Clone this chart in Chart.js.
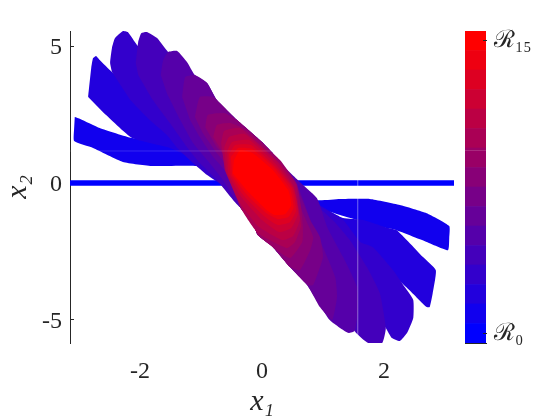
<!DOCTYPE html>
<html>
<head>
<meta charset="utf-8">
<script src="https://cdn.jsdelivr.net/npm/chart.js@4"></script>
<style>
body { margin: 0; background: #fff; }
canvas { position: absolute; top: 0; }
#setsChart { left: 0; }
#barChart { left: 465px; }
</style>
</head>
<body>
<canvas id="setsChart" width="560" height="420"></canvas>
<canvas id="barChart" width="95" height="420"></canvas>
<script>
// Tick labels and limits
const xTicks = [-2, 0, 2];
const yTicks = [-5, 0, 5];
const xLimits = [-3.148, 3.148];
const yLimits = [-5.84, 5.55];
const barTicks = [0.5, 9.85, 15.5];
const barTickLabels = { 0.5: 'ℛ₀', 15.5: 'ℛ₁₅' };

// Outlines of the reachable sets as [x1, x2]
const r0 = [[-3.148, 0], [3.148, 0]];
const r1 = [[-3.07, 2.41], [-2.98, 2.34], [-2.66, 2.01], [-2.13, 1.64], [-1.34, 1.39], [-0.52, 0.84], [0, 0.40], [0.62, -0.26], [0.90, -0.62], [1.28, -0.58], [1.77, -0.58], [2.26, -0.80], [2.70, -1.10], [3.07, -1.57], [3.07, -2.01], [3.05, -2.45], [2.70, -2.15], [2.15, -1.68], [1.98, -1.61], [1.28, -1.17], [0.46, -0.55], [0, -0.33], [-0.52, 0.29], [-1.07, 0.62], [-1.79, 0.62], [-2.28, 0.77], [-2.77, 1.28], [-3.08, 1.53], [-3.08, 2.01]];
const r2 = [[-2.85, 3.14], [-2.80, 4.20], [-2.77, 4.56], [-2.72, 4.64], [-2.66, 4.49], [-2.46, 4.05], [-1.84, 2.85], [-1.02, 1.75], [0, 0.47], [0.62, -0.26], [0.95, -0.80], [1.33, -1.28], [1.66, -1.35], [2.02, -1.61], [2.21, -1.72], [2.64, -2.70], [2.85, -3.18], [2.80, -4.01], [2.75, -4.53], [2.70, -4.53], [2.38, -3.83], [1.77, -2.63], [0.95, -1.53], [0, -0.47], [-0.93, 0.47], [-1.26, 1.02], [-1.51, 1.28], [-2.13, 1.64], [-2.61, 2.59]];
const r3 = [[-2.46, 4.05], [-2.49, 4.38], [-2.46, 4.93], [-2.41, 5.29], [-2.28, 5.55], [-2.20, 5.51], [-2.05, 5.04], [-1.59, 3.94], [-0.85, 2.48], [0, 0.84], [0.79, -0.62], [1.33, -1.35], [1.61, -2.15], [1.82, -2.34], [2.15, -3.18], [2.34, -3.80], [2.48, -4.27], [2.48, -4.93], [2.38, -5.47], [2.26, -5.77], [2.13, -5.66], [2.03, -5.29], [1.77, -4.27], [1.28, -2.99], [0.62, -1.53], [0, -0.80], [-0.48, -0.51], [-0.66, -0.07], [-0.90, 0.29], [-1.13, 0.73], [-1.39, 1.28], [-1.56, 1.75], [-1.84, 2.30], [-2.16, 3.03]];
const r4 = [[-2.07, 4.38], [-2.03, 5.15], [-1.98, 5.47], [-1.89, 5.51], [-1.72, 5.29], [-1.54, 4.78], [-1.18, 3.94], [-0.52, 2.48], [0, 1.20], [0.62, -0.26], [1.16, -1.35], [1.44, -2.08], [1.72, -3.07], [1.93, -4.01], [2.03, -5.29], [1.97, -5.84], [1.74, -5.84], [1.52, -5.40], [1.36, -3.91], [0.79, -2.26], [0.13, -1.17], [-0.36, -0.88], [-0.74, 0.11], [-1.02, 0.73], [-1.23, 1.31], [-1.51, 2.19], [-1.79, 3.03], [-2.03, 3.94]];
const r5 = [[-1.66, 3.94], [-1.62, 4.49], [-1.54, 4.78], [-1.39, 4.82], [-1.23, 4.42], [-1.10, 3.94], [-0.90, 3.65], [-0.74, 3.03], [-0.41, 2.30], [0, 1.50], [0.16, 1.13], [0.30, 0.73], [0.62, 0.04], [0.90, -0.55], [1.07, -1.61], [1.33, -2.70], [1.56, -3.80], [1.57, -4.74], [1.52, -5.40], [1.41, -5.47], [1.11, -5.00], [0.74, -3.72], [0.46, -3.07], [0.18, -2.34], [-0.07, -1.90], [-0.15, -1.46], [-0.36, -0.88], [-0.64, 0.11], [-0.90, 0.84], [-1.13, 1.46], [-1.34, 2.30], [-1.56, 3.28]];
const r6 = [[-1.31, 3.14], [-1.26, 3.87], [-1.10, 3.94], [-0.90, 3.65], [-0.74, 3.03], [-0.41, 2.30], [0, 1.50], [0.16, 1.13], [0.30, 0.73], [0.56, 0.04], [0.84, -1.61], [1.00, -2.34], [1.20, -3.43], [1.23, -4.16], [1.15, -5.00], [0.95, -4.53], [0.74, -3.72], [0.46, -3.07], [0.18, -2.34], [-0.07, -1.90], [-0.15, -1.46], [-0.36, -0.88], [-0.52, 0.22], [-0.80, 0.95], [-1.02, 1.68], [-1.18, 2.30]];
const r7 = [[-1.10, 2.41], [-1.02, 3.14], [-0.80, 3.14], [-0.69, 2.92], [-0.41, 2.30], [0, 1.50], [0.16, 1.13], [0.30, 0.73], [0.51, 0.18], [0.79, -1.35], [0.95, -1.97], [1.00, -2.70], [0.84, -3.72], [0.74, -3.72], [0.46, -3.07], [0.18, -2.34], [-0.07, -1.90], [-0.15, -1.46], [-0.36, -0.88], [-0.52, 0.47], [-0.74, 1.09], [-0.97, 1.82]];
const r8 = [[-0.93, 2.04], [-0.89, 2.48], [-0.61, 2.55], [-0.41, 2.30], [0, 1.50], [0.16, 1.09], [0.33, 0.62], [0.48, 0.11], [0.67, -1.09], [0.84, -1.97], [0.79, -2.45], [0.62, -3.18], [0.46, -3.07], [0.18, -2.34], [-0.07, -1.90], [-0.15, -1.46], [-0.31, -0.99], [-0.52, 0.73], [-0.74, 1.31]];
const r9 = [[-0.80, 1.68], [-0.74, 2.12], [-0.52, 2.19], [-0.28, 1.97], [0, 1.46], [0.21, 1.02], [0.31, 0.80], [0.57, -0.04], [0.64, -0.88], [0.67, -1.61], [0.66, -2.15], [0.46, -2.74], [0.18, -2.34], [-0.07, -1.90], [-0.15, -1.46], [-0.31, -0.99], [-0.48, 0.58], [-0.64, 1.09]];
const r10 = [[-0.67, 1.46], [-0.62, 1.90], [-0.36, 2.01], [0.26, 0.80], [0.56, -0.07], [0.59, -0.73], [0.64, -1.57], [0.54, -2.15], [0.41, -2.37], [-0.07, -1.82], [-0.31, -1.06], [-0.61, 0.47]];
const r11 = [[-0.62, 1.31], [-0.54, 1.68], [-0.28, 1.79], [0.25, 0.77], [0.52, -0.11], [0.57, -0.66], [0.62, -1.35], [0.51, -1.93], [0.33, -2.08], [-0.07, -1.57], [-0.38, -0.66], [-0.59, 0.40]];
const r12 = [[-0.57, 1.17], [-0.49, 1.50], [-0.21, 1.57], [0.23, 0.69], [0.51, -0.15], [0.56, -0.55], [0.59, -1.13], [0.48, -1.64], [0.28, -1.79], [0, -1.35], [-0.34, -0.51], [-0.56, 0.33]];
const r13 = [[-0.54, 1.06], [-0.44, 1.39], [-0.18, 1.39], [0.21, 0.62], [0.49, -0.18], [0.56, -0.99], [0.46, -1.42], [0.26, -1.53], [0.03, -1.20], [-0.31, -0.44], [-0.52, 0.29]];
const r14 = [[-0.51, 0.95], [-0.39, 1.28], [-0.16, 1.24], [0.20, 0.55], [0.46, -0.22], [0.52, -0.88], [0.43, -1.24], [0.26, -1.31], [0.07, -1.09], [-0.26, -0.40], [-0.49, 0.29]];
const r15 = [[-0.46, 0.84], [-0.36, 1.20], [-0.15, 1.09], [0.18, 0.47], [0.43, -0.26], [0.48, -0.80], [0.38, -1.13], [0.21, -1.17], [0.08, -0.99], [-0.25, -0.26], [-0.48, 0.36]];
const sets = [r1, r2, r3, r4, r5, r6, r7, r8, r9, r10, r11, r12, r13, r14, r15];

// Faint seams that cross the original figure
const seamH = [[-3.148, 1.17], [3.148, 1.17]];
const seamV = [[1.57, 5.55], [1.57, -5.84]];

const inkColor = '#262626';
const seamColor = 'rgba(255,255,255,0.16)';
const tickFont = { family: '"Liberation Serif"', size: 24 };
const titleFont = { family: '"Liberation Serif"', size: 30, style: 'italic' };

function levelColor(k) {
    return `rgb(${k * 17},0,${255 - k * 17})`;
}

function toPoints(pairs) {
    return pairs.map(([x, y]) => ({ x, y }));
}

function fixTicks(values) {
    return (scale) => {
        scale.ticks = values.map(value => ({ value }));
    };
}

// Later sets lie on top; chart.js paints the lowest order last
const setDatasets = sets.map((outline, i) => ({
    data: toPoints(outline),
    showLine: true,
    fill: 'shape',
    tension: 0.15,
    borderWidth: 0,
    pointRadius: 0,
    backgroundColor: levelColor(i + 1),
    order: 16 - i
}));

new Chart(document.getElementById('setsChart'), {
    type: 'scatter',
    data: {
        datasets: [
            { data: toPoints(seamH), showLine: true, borderWidth: 1, borderColor: seamColor, pointRadius: 0, order: -1 },
            { data: toPoints(seamV), showLine: true, borderWidth: 1, borderColor: seamColor, pointRadius: 0, order: -1 },
            { data: toPoints(r0), showLine: true, borderWidth: 5.4, borderColor: levelColor(0), pointRadius: 0, order: 20 },
            ...setDatasets
        ]
    },
    options: {
        responsive: false,
        animation: false,
        layout: { padding: { top: 31, right: 106, left: 0, bottom: 0 } },
        plugins: { legend: { display: false }, tooltip: { enabled: false } },
        scales: {
            x: {
                min: xLimits[0],
                max: xLimits[1],
                afterBuildTicks: fixTicks(xTicks),
                afterFit: (scale) => { scale.height = 77; },
                border: { display: false },
                grid: { display: false },
                ticks: { font: tickFont, color: inkColor, padding: 6, maxRotation: 0, callback: v => String(v) },
                title: { display: true, text: 'x₁', font: titleFont, color: inkColor, padding: { top: 0, bottom: 0 } }
            },
            y: {
                min: yLimits[0],
                max: yLimits[1],
                afterBuildTicks: fixTicks(yTicks),
                afterFit: (scale) => { scale.width = 70; },
                border: { display: true, color: inkColor, width: 1 },
                grid: { drawOnChartArea: false, tickLength: -4, tickColor: inkColor },
                ticks: { font: tickFont, color: inkColor, padding: 12, labelOffset: 2, callback: v => String(v) },
                title: { display: true, text: 'x₂', font: titleFont, color: inkColor, padding: { top: 0, bottom: 0 } }
            }
        }
    }
});

// Colour bar: one stacked block per level
const levels = Array.from({ length: 16 }, (_, k) => k);

new Chart(document.getElementById('barChart'), {
    type: 'bar',
    data: {
        labels: [''],
        datasets: levels.map(k => ({
            data: [1],
            backgroundColor: levelColor(k),
            barPercentage: 1,
            categoryPercentage: 1
        }))
    },
    options: {
        responsive: false,
        animation: false,
        layout: { padding: { top: 31, bottom: 77, left: 0, right: 0 } },
        plugins: { legend: { display: false }, tooltip: { enabled: false } },
        scales: {
            x: {
                stacked: true,
                afterFit: (scale) => { scale.height = 0; },
                border: { display: true, color: inkColor, width: 1 },
                grid: { display: false },
                ticks: { display: false }
            },
            y: {
                stacked: true,
                position: 'right',
                min: 0,
                max: 16,
                afterBuildTicks: fixTicks(barTicks),
                afterFit: (scale) => { scale.width = 74; },
                border: { display: true, color: inkColor, width: 1 },
                grid: {
                    z: 1,
                    tickLength: -3,
                    color: ctx => barTickLabels[ctx.tick.value] ? 'transparent' : seamColor,
                    tickColor: ctx => barTickLabels[ctx.tick.value] ? inkColor : 'transparent'
                },
                ticks: {
                    font: { family: '"Liberation Serif"', size: 24 },
                    color: inkColor,
                    padding: 11,
                    callback: v => barTickLabels[v] || ''
                }
            }
        }
    }
});
</script>
</body>
</html>
